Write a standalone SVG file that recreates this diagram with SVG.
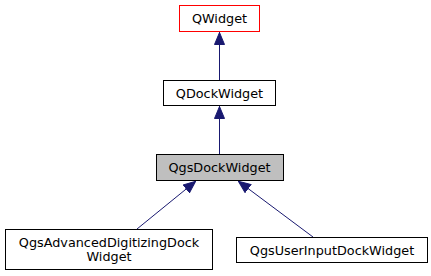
<svg xmlns="http://www.w3.org/2000/svg" width="431" height="276" viewBox="0 0 431 276">
  <style>
    .box { fill: #ffffff; stroke: #000000; stroke-width: 1; }
    .base { fill: #ffffff; stroke: #ff0000; stroke-width: 1; }
    .cur { fill: #bfbfbf; stroke: #000000; stroke-width: 1; }
    .lbl { font-family: "DejaVu Sans", sans-serif; font-size: 12.8px; fill: #000000; text-anchor: middle; }
    .edge { fill: none; stroke: #191970; stroke-width: 1; }
  </style>
  <defs>
    <marker id="inherit" viewBox="0 0 13 11" refX="13" refY="5.5" markerWidth="13" markerHeight="11" markerUnits="userSpaceOnUse" orient="auto">
      <path d="M0.5,0.5 L12.5,5.5 L0.5,10.5 Z" fill="#191970" stroke="#191970" stroke-width="1"/>
    </marker>
  </defs>
  <rect width="431" height="276" fill="#ffffff"/>

  <g id="edges">
    <path class="edge" d="M219.5,80 L219.5,32" marker-end="url(#inherit)"/>
    <path class="edge" d="M219.5,154 L219.5,106" marker-end="url(#inherit)"/>
    <path class="edge" d="M137,229 L196,181" marker-end="url(#inherit)"/>
    <path class="edge" d="M313,237 L238,181" marker-end="url(#inherit)"/>
  </g>

  <g id="QWidget">
    <rect class="base" x="179.5" y="5.5" width="80" height="26" style="stroke:#ff0000"/>
    <text class="lbl" x="219.5" y="23">QWidget</text>
  </g>

  <g id="QDockWidget">
    <rect class="box" x="163.5" y="80.5" width="112" height="25"/>
    <text class="lbl" x="219.5" y="97.5">QDockWidget</text>
  </g>

  <g id="QgsDockWidget">
    <rect class="cur" x="156.5" y="154.5" width="127" height="26"/>
    <text class="lbl" x="219.5" y="172">QgsDockWidget</text>
  </g>

  <g id="QgsAdvancedDigitizingDockWidget">
    <rect class="box" x="5.5" y="229.5" width="207" height="40"/>
    <text class="lbl" x="109" y="247">QgsAdvancedDigitizingDock</text>
    <text class="lbl" x="109" y="261">Widget</text>
  </g>

  <g id="QgsUserInputDockWidget">
    <rect class="box" x="236.5" y="237.5" width="191" height="25"/>
    <text class="lbl" x="332" y="254.5">QgsUserInputDockWidget</text>
  </g>
</svg>
